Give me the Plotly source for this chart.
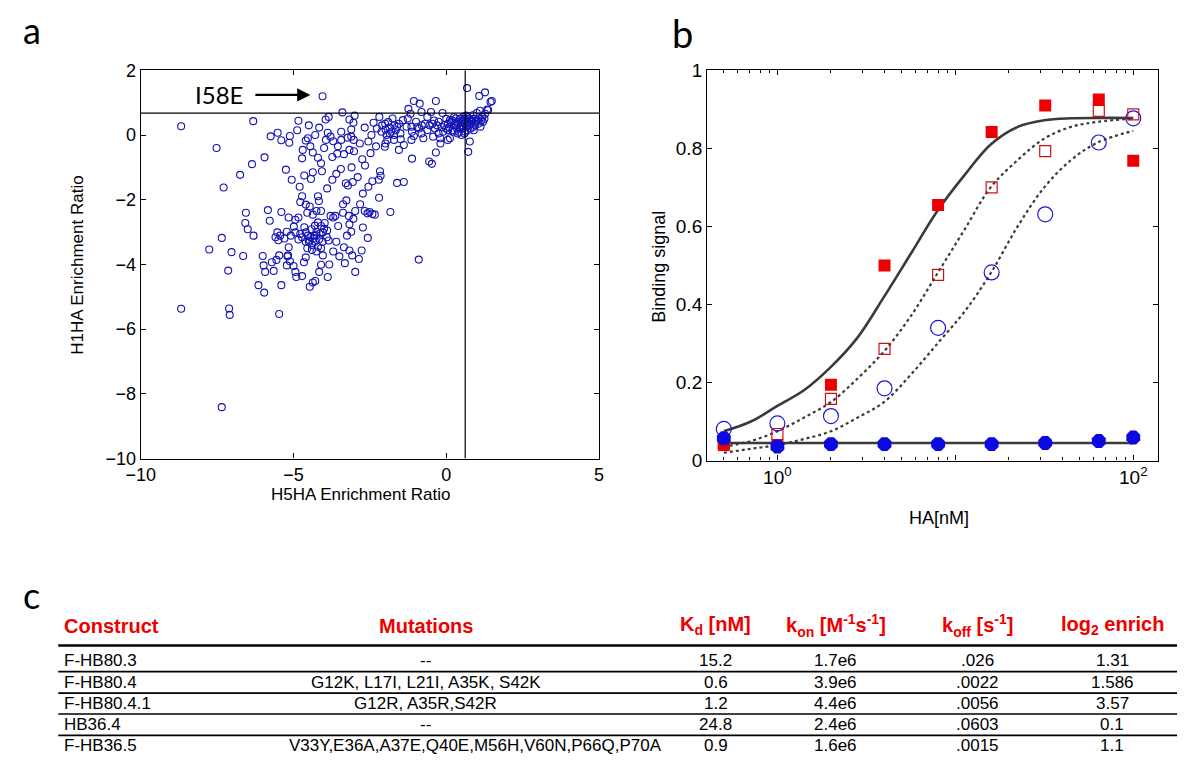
import plotly.graph_objects as go

# ---------------- Panel a data ----------------
h5_h1 = [
    (-4.05,1.20),(0.68,1.45),(1.08,1.21),(1.27,1.32),(1.49,1.05),(1.45,1.02),(-1.06,1.05),(-0.87,0.97),(-0.34,1.05),(-1.24,0.81),(-0.81,0.71),(-3.40,0.70),(1.34,0.79),(1.10,0.75),
    (-8.68,0.27),(-6.32,0.43),(-7.52,-0.40),(-5.95,-0.69),(-6.36,-0.90),(-6.75,-1.23),(-7.29,-1.62),(-5.75,-0.04),(-5.52,0.07),(-5.40,-0.16),(-5.12,-0.03),(-5.14,-0.24),(-4.84,0.44),(-4.88,0.15),(-5.25,-1.07),(-5.06,-1.38),(-4.72,-0.72),(-4.70,-0.46),(-4.60,-0.17),(-4.53,-0.10),(-4.37,-0.54),(-4.20,-0.70),(-4.10,-0.87),(-4.07,-1.12),(-4.37,-1.15),(-4.43,-1.36),(-4.29,0.0),(-4.16,0.23),(-3.95,0.48),(-3.85,0.56),(-3.88,0.07),(-3.79,-0.05),(-3.94,-0.15),(-3.70,-0.19),(-3.73,-0.68),(-3.44,0.10),(-3.44,-0.15),(-3.23,-0.08),(-3.17,0.48),(-3.04,0.38),(-3.11,0.17),(-3.11,-0.05),(-3.03,-0.15),(-3.02,-0.50),(-3.17,-0.46),(-3.35,-0.59),(-3.57,-0.58),(-3.73,-1.38),(-3.29,-1.49),(-3.22,-1.56),(-3.06,-1.45),(-2.67,0.23),(-2.83,-0.26),(-2.66,-0.94),(-2.48,-0.56),(-2.38,0.38),(-2.19,0.56),(-2.27,0.20),(-2.12,0.10),(-1.99,0.17),(-1.86,0.23),(-1.76,0.51),(-1.80,0.10),(-1.71,0.0),(-1.93,-0.15),(-1.99,-0.26),(-2.01,-0.36),(-1.71,-0.15),(-1.55,-0.46),(-1.49,-0.13),(-1.39,-0.31),(-1.61,0.26),(-1.42,0.46),(-1.26,0.51),(-1.17,0.66),(-1.30,0.26),(-1.14,0.26),(-1.12,0.10),(-1.06,-0.03),(-1.14,-0.15),(-1.12,-0.73),(-0.99,0.41),(-0.89,0.20),(-0.81,0.05),(-0.75,-0.10),(-0.62,0.15),(-0.62,0.56),(-0.50,0.71),(-0.56,-0.82),(-0.47,-0.89),(-0.34,-0.54),(-0.43,-0.05),(-0.37,0.20),(-0.25,0.05),(-0.25,0.41),(-0.12,0.68),(-0.06,0.31),(-0.19,-0.26),
    (0.06,0.15),(0.12,0.46),(0.12,-0.10),(0.25,0.31),(0.31,0.51),(0.37,0.05),(0.43,0.20),(0.50,0.41),(0.56,0.56),(0.62,0.10),(0.68,0.31),(0.72,-0.52),(0.77,-0.20),(0.81,0.46),(0.87,0.61),(0.89,0.26),(0.97,0.41),(1.06,0.51),(1.12,0.26),(1.18,0.56),(1.27,0.66),(1.37,0.77),(1.00,0.68),
    (0.0,0.2),(0.05,0.35),(0.1,0.25),(0.15,0.4),(0.2,0.15),(0.2,0.45),(0.25,0.1),(0.3,0.3),(0.35,0.4),(0.4,0.35),(0.45,0.5),(0.45,0.25),(0.5,0.3),(0.55,0.2),(0.55,0.45),(0.6,0.35),(0.6,0.5),(0.65,0.25),(0.65,0.45),(0.7,0.4),(0.7,0.55),(0.75,0.3),(0.75,0.5),(0.8,0.35),(0.85,0.45),(0.9,0.5),(0.95,0.3),(1.0,0.45),(1.05,0.35),(1.15,0.45),(1.2,0.4),(1.25,0.5),(0.35,0.2),(0.4,0.1),(0.5,0.0),(0.6,0.05),(0.7,0.15),(0.8,0.2),(-0.1,0.1),(-0.15,0.25),(-0.3,0.3),(-0.45,0.35),(-0.55,0.3),(-0.7,0.35),(-0.8,0.3),(-0.95,0.25),(-0.4,0.45),(0.0,0.5),(0.25,0.55),(0.65,0.6),(0.9,0.15),(-0.2,-0.1),(0.05,-0.15),
    (-2.0,0.35),(-1.9,0.4),(-1.85,0.05),(-1.7,0.3),(-1.65,0.15),(-1.55,0.35),(-1.5,0.05),(-2.1,0.3),(-1.95,0.0),
    (-4.72,-1.89),(-4.78,-2.07),(-4.60,-2.15),(-4.47,-2.21),(-4.55,-2.40),(-4.37,-2.46),(-4.20,-1.89),(-4.17,-2.04),(-4.25,-2.35),(-4.10,-2.35),(-3.38,-2.40),(-3.38,-2.14),(-3.27,-2.02),(-3.19,-2.50),(-3.17,-2.76),(-3.11,-2.99),(-3.25,-3.11),(-3.35,-3.47),(-3.17,-3.57),(-3.08,-3.72),(-3.32,-3.96),(-2.98,-4.23),(-3.04,-2.59),(-2.98,-2.35),(-2.82,-2.14),(-2.73,-1.81),(-2.67,-2.35),(-2.58,-2.42),(-2.51,-2.38),(-2.42,-2.44),(-2.34,-2.46),(-2.73,-2.86),(-2.57,-3.18),(-2.77,-3.57),(-2.86,-3.83),(-2.20,-1.94),(-2.17,-1.12),(-2.15,-1.26),(-2.42,-1.43),(-2.21,-1.38),(-1.83,-2.38),(-1.61,-1.48),(-1.39,-1.45),(-0.90,-3.85),
    (-6.56,-2.40),(-6.58,-2.72),(-6.50,-2.91),(-6.31,-3.11),(-5.84,-2.32),(-5.78,-2.65),(-5.40,-2.38),(-5.53,-3.01),(-5.59,-3.16),(-5.44,-3.11),(-5.16,-2.55),(-4.94,-2.62),(-4.84,-2.55),(-4.99,-2.83),(-5.22,-2.99),(-5.09,-3.11),(-4.94,-3.01),(-4.78,-3.06),(-4.84,-3.23),(-4.72,-3.16),(-4.60,-3.01),(-4.53,-3.11),(-4.47,-3.26),(-4.41,-2.91),(-4.32,-3.11),(-4.25,-2.99),(-4.16,-3.21),(-4.10,-2.81),(-4.04,-3.01),(-3.98,-2.72),(-3.91,-3.16),(-3.85,-3.26),(-3.79,-2.50),(-3.70,-2.55),(-3.63,-2.50),(-3.54,-2.81),
    (-4.5,-3.3),(-4.4,-3.4),(-4.3,-3.3),(-4.2,-3.45),(-4.35,-3.2),(-4.45,-3.15),(-4.6,-3.3),(-4.25,-3.1),(-4.15,-3.05),(-4.05,-3.3),(-4.0,-2.9),(-3.9,-2.95),(-4.3,-2.8),(-4.2,-2.7),(-4.4,-3.55),(-4.25,-3.6),(-4.55,-3.5),(-4.65,-2.85),(-4.1,-3.5),
    (-7.76,-3.54),(-7.35,-3.18),(-7.03,-3.62),(-6.65,-3.74),(-7.14,-4.19),(-8.68,-5.37),(-7.11,-5.36),(-7.09,-5.56),(-7.35,-8.41),(-5.47,-5.53),(-5.40,-4.64),(-6.15,-4.64),(-5.96,-4.87),(-6.01,-3.74),(-5.98,-4.03),(-5.93,-4.23),(-5.71,-3.93),(-5.65,-4.20),(-5.56,-3.86),(-5.47,-3.72),(-5.22,-4.03),(-5.18,-3.72),(-5.12,-3.90),(-4.94,-4.23),(-4.91,-4.39),(-4.72,-4.36),(-4.66,-3.93),(-4.60,-3.78),(-4.47,-4.69),(-4.37,-4.56),(-4.29,-4.51),(-4.16,-4.23),(-4.10,-4.01),(-3.88,-4.39),(-3.83,-4.00),(-4.04,-3.72),(-5.16,-3.47),(-5.3,-3.2),(-5.5,-3.25),(-5.2,-3.75),(-5.0,-4.05),(-3.6,-3.3),(-3.7,-3.6),(-3.5,-3.75),
    (-4.8,-1.6),(-4.65,-1.25),(-3.9,-1.65),(-3.6,-1.2),(-3.45,-1.05),(-3.1,-1.0),(-2.9,-1.3),(-2.55,-1.6),(-4.45,-0.35),(-3.55,-0.35),(-2.75,-0.75),(-2.45,0.0),(-2.3,-0.35),(-2.55,-0.2),(-3.0,0.6),(-4.5,0.3),(-4.0,-0.4),
]
h5_ratio = [p[0] for p in h5_h1]
h1_ratio = [p[1] for p in h5_h1]
h5_cut = 0.62
h1_cut = 0.68

# ---------------- Panel b data ----------------
conc = [0.5, 1, 2, 4, 8, 16, 32, 64, 100]
red_filled = [0.04, 0.04, 0.194, 0.50, 0.655, 0.842, 0.91, 0.925, 0.768]
red_open = [0.045, 0.068, 0.158, 0.286, 0.476, 0.70, 0.793, 0.896, 0.887]
blue_open = [0.081, 0.095, 0.114, 0.185, 0.34, 0.482, 0.631, 0.815, 0.877]
blue_filled = [0.057, 0.036, 0.042, 0.042, 0.042, 0.042, 0.045, 0.05, 0.059]

# fitted curves at log-spaced concentrations
fit_x = [0.5, 0.71, 1, 1.41, 2, 2.82, 3.98, 5.62, 7.94, 11.2, 15.8, 22.4, 31.6, 44.7, 63.1, 100]
fit_y_solid = [0.075, 0.10, 0.14, 0.18, 0.24, 0.315, 0.42, 0.53, 0.64, 0.73, 0.81, 0.855, 0.872, 0.877, 0.878, 0.878]
fit_y_a = [0.035, 0.05, 0.075, 0.11, 0.15, 0.21, 0.28, 0.37, 0.48, 0.59, 0.70, 0.77, 0.825, 0.855, 0.868, 0.876]
fit_y_b = [0.02, 0.03, 0.04, 0.055, 0.075, 0.11, 0.15, 0.22, 0.30, 0.38, 0.48, 0.60, 0.70, 0.77, 0.815, 0.845]
flat_x = [0.5, 100]
flat_y = [0.045, 0.045]

# ---------------- Table data ----------------
col_headers = ["Construct", "Mutations", "K<sub>d</sub> [nM]", "k<sub>on</sub> [M<sup>-1</sup>s<sup>-1</sup>]",
               "k<sub>off</sub> [s<sup>-1</sup>]", "log<sub>2</sub> enrich"]
constructs = ["F-HB80.3", "F-HB80.4", "F-HB80.4.1", "HB36.4", "F-HB36.5"]
mutations = ["--", "G12K, L17I, L21I, A35K, S42K", "G12R, A35R,S42R", "--",
             "V33Y,E36A,A37E,Q40E,M56H,V60N,P66Q,P70A"]
kd = ["15.2", "0.6", "1.2", "24.8", "0.9"]
kon = ["1.7e6", "3.9e6", "4.4e6", "2.4e6", "1.6e6"]
koff = [".026", ".0022", ".0056", ".0603", ".0015"]
log2_enrich = ["1.31", "1.586", "3.57", "0.1", "1.1"]

W, H = 1184, 779
def px(x):
    return x / W
def py(y):
    return 1 - y / H

FONT = "Liberation Sans, Arial, sans-serif"
LBL = "Lato, Open Sans, sans-serif"

fig = go.Figure()

# Panel a
fig.add_trace(go.Scatter(x=h5_ratio, y=h1_ratio, mode="markers", xaxis="x", yaxis="y",
                         marker=dict(symbol="circle-open", size=7, color="#1414b4", line=dict(width=1.1)),
                         showlegend=False, hoverinfo="skip"))

# Panel b
line_col = "#3a3a3a"
fig.add_trace(go.Scatter(x=fit_x, y=fit_y_solid, mode="lines", xaxis="x2", yaxis="y2",
                         line=dict(color=line_col, width=2.6, shape="spline"), showlegend=False))
fig.add_trace(go.Scatter(x=fit_x, y=fit_y_a, mode="lines", xaxis="x2", yaxis="y2",
                         line=dict(color=line_col, width=2.2, dash="dot", shape="spline"), showlegend=False))
fig.add_trace(go.Scatter(x=fit_x, y=fit_y_b, mode="lines", xaxis="x2", yaxis="y2",
                         line=dict(color=line_col, width=2.2, dash="dot", shape="spline"), showlegend=False))
fig.add_trace(go.Scatter(x=flat_x, y=flat_y, mode="lines", xaxis="x2", yaxis="y2",
                         line=dict(color=line_col, width=2.6), showlegend=False))
fig.add_trace(go.Scatter(x=conc, y=blue_open, mode="markers", xaxis="x2", yaxis="y2",
                         marker=dict(symbol="circle-open", size=15, color="#1a1ad0", line=dict(width=1.2)),
                         showlegend=False))
fig.add_trace(go.Scatter(x=conc, y=red_open, mode="markers", xaxis="x2", yaxis="y2",
                         marker=dict(symbol="square-open", size=11, color="#d01010", line=dict(width=1.2)),
                         showlegend=False))
fig.add_trace(go.Scatter(x=conc, y=red_filled, mode="markers", xaxis="x2", yaxis="y2",
                         marker=dict(symbol="square", size=12, color="#ee0000"),
                         showlegend=False))
fig.add_trace(go.Scatter(x=conc, y=blue_filled, mode="markers", xaxis="x2", yaxis="y2",
                         marker=dict(symbol="octagon", size=15, color="#0a0ae0"),
                         showlegend=False))

axis_common = dict(showline=True, linecolor="black", linewidth=1.2, mirror="allticks", ticks="inside",
                   ticklen=5, tickcolor="black", showgrid=False, zeroline=False)

minor_vals = [0.5, 0.6, 0.7, 0.8, 0.9] + [v for v in range(2, 10)] + [v * 10 for v in range(2, 10)]

fig.update_layout(
    width=W, height=H, margin=dict(l=0, r=0, t=0, b=0),
    paper_bgcolor="white", plot_bgcolor="white",
    xaxis=dict(domain=[px(128), px(594)], range=[-10, 5], tickvals=[-10, -5, 0, 5], anchor="y",
               tickfont=dict(family=FONT, size=18, color="black"), **axis_common),
    yaxis=dict(domain=[py(461), py(62)], range=[-10, 2], tickvals=[-10, -8, -6, -4, -2, 0, 2], anchor="x",
               tickfont=dict(family=FONT, size=18, color="black"), **axis_common),
    xaxis2=dict(domain=[px(704), px(1163)], type="log", range=[-0.395, 2.141], tickvals=[1, 10, 100],
                ticktext=["10<sup>0</sup>", "", "10<sup>2</sup>"], anchor="y2",
                minor=dict(tickvals=minor_vals, ticks="inside", ticklen=3, tickcolor="black"),
                tickfont=dict(family=FONT, size=19, color="black"), **axis_common),
    yaxis2=dict(domain=[py(463), py(62)], range=[0, 1], tickvals=[0, 0.2, 0.4, 0.6, 0.8, 1],
                ticktext=["0", "0.2", "0.4", "0.6", "0.8", "1"], anchor="x2",
                tickfont=dict(family=FONT, size=19, color="black"), **axis_common),
)

shapes = [
    dict(type="line", xref="x", yref="y", x0=h5_cut, x1=h5_cut, y0=-10, y1=2, line=dict(color="black", width=1.2)),
    dict(type="line", xref="x", yref="y", x0=-10, x1=5, y0=h1_cut, y1=h1_cut, line=dict(color="black", width=1.2)),
]

ann = []
def text_at(t, x, y, size, family=FONT, color="black", xanchor="center", angle=0):
    ann.append(dict(text=t, x=px(x), y=py(y), xref="paper", yref="paper", showarrow=False,
                    xanchor=xanchor, yanchor="middle", textangle=angle,
                    font=dict(family=family, size=size, color=color)))

# panel labels
text_at("a", 17, 21, 36, family=LBL)
text_at("b", 679, 24, 38, family=LBL)
text_at("c", 17, 601, 36, family=LBL)
# axis titles
text_at("H5HA Enrichment Ratio", 352, 498, 17)
text_at("H1HA Enrichment Ratio", 64, 262, 17, angle=-90)
text_at("HA[nM]", 940, 522, 18)
text_at("Binding signal", 655, 264, 18, angle=-90)
# I58E annotation
ann.append(dict(text="I58E", x=-7.45, y=1.24, xref="x", yref="y", showarrow=False,
                xanchor="center", yanchor="middle", font=dict(family=LBL, size=24, color="black")))
ann.append(dict(text="", x=-4.45, y=1.24, ax=-6.3, ay=1.24, xref="x", yref="y", axref="x", ayref="y",
                showarrow=True, arrowhead=2, arrowsize=1.2, arrowwidth=2.2, arrowcolor="black"))

# table
hdr_y = 633
row_y = [669, 690.75, 712.5, 734.25, 756]
line_y = [680, 702, 723.5, 745.5]
head_line_y = 653
col_x = [48, 418, 713, 835, 979, 1116]
red = "#ee0000"
for i, h in enumerate(col_headers):
    text_at("<b>" + h + "</b>", col_x[i], hdr_y, 20, color=red, xanchor="left" if i == 0 else "center")
for r in range(len(constructs)):
    vals = [constructs[r], mutations[r], kd[r], kon[r], koff[r], log2_enrich[r]]
    for i, v in enumerate(vals):
        xx = col_x[i]
        if i == 1 and len(v) > 30:
            xx = 468
        text_at(v, xx, row_y[r], 17, xanchor="left" if i == 0 else "center")
shapes.append(dict(type="line", xref="paper", yref="paper", x0=px(44), x1=px(1182), y0=py(head_line_y), y1=py(head_line_y),
                   line=dict(color="black", width=2.5)))
for ly in line_y:
    shapes.append(dict(type="line", xref="paper", yref="paper", x0=px(44), x1=px(1182), y0=py(ly), y1=py(ly),
                       line=dict(color="black", width=1.6)))

fig.update_layout(shapes=shapes, annotations=ann)
fig.write_html("out.html")
